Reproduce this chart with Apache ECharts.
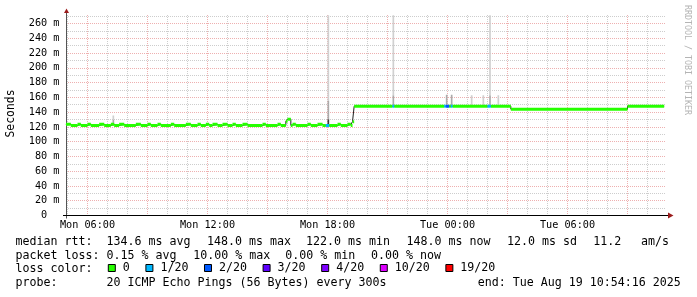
<!DOCTYPE html>
<html><head><meta charset="utf-8">
<script src="https://cdn.jsdelivr.net/npm/echarts@6/dist/echarts.min.js"></script>
<style>html,body{margin:0;padding:0;background:#fff}#c{width:697px;height:297px}</style>
</head><body><div id="c"></div>
<script>
// ---------------- data ----------------
const xRange = ['Mon 04:55:30', 'Tue 10:55:30'];
const xTickHours = [6, 12, 18, 24, 30];
const xTickLabels = ['Mon 06:00', 'Mon 12:00', 'Mon 18:00', 'Tue 00:00', 'Tue 06:00'];
const yTickValues = [0, 20, 40, 60, 80, 100, 120, 140, 160, 180, 200, 220, 240, 260];
const yTickLabels = ['0  ', '20 m', '40 m', '60 m', '80 m', '100 m', '120 m', '140 m', '160 m', '180 m', '200 m', '220 m', '240 m', '260 m'];
const yMax = 271.5;

const lossLabels = ['0', '1/20', '2/20', '3/20', '4/20', '10/20', '19/20'];
const lossColors = ['#26ff00', '#00b8ff', '#0059ff', '#5e00ff', '#7e00ff', '#dd00ff', '#ff0000'];

// median rtt (ms) per segment, starting at the given time; loss class index per segment
const medianStart = ['Mon 04:55','Mon 05:10','Mon 05:30','Mon 05:40','Mon 06:00','Mon 06:10','Mon 06:35','Mon 06:50','Mon 07:10','Mon 07:20',
  'Mon 07:35','Mon 07:50','Mon 08:25','Mon 08:40','Mon 09:00','Mon 09:10','Mon 09:30','Mon 09:40','Mon 10:10','Mon 10:20',
  'Mon 10:55','Mon 11:10','Mon 11:30','Mon 11:40','Mon 11:55','Mon 12:05','Mon 12:15','Mon 12:30','Mon 12:45','Mon 13:00',
  'Mon 13:15','Mon 13:25','Mon 13:45','Mon 14:00','Mon 14:45','Mon 14:55','Mon 15:30','Mon 15:40','Mon 15:55','Mon 16:00',
  'Mon 16:10','Mon 16:15','Mon 16:25','Mon 17:00','Mon 17:10','Mon 17:30','Mon 17:45','Mon 17:55','Mon 18:05','Mon 18:30',
  'Mon 18:40','Mon 19:00','Mon 19:10','Mon 19:15','Mon 19:20','Mon 21:15','Mon 21:20','Mon 23:50','Mon 23:55','Tue 00:05',
  'Tue 00:10','Tue 00:15','Tue 02:00','Tue 02:10','Tue 03:10','Tue 09:00'];
const medianEnd = 'Tue 10:50';
const medianValue = [123.4,122.0,123.4,122.0,123.4,122.0,123.4,122.0,123.4,122.0,
  123.4,122.0,123.4,122.0,123.4,122.0,123.4,122.0,123.4,122.0,
  123.4,122.0,123.4,122.0,123.4,122.0,123.4,122.0,123.4,122.0,
  123.4,122.0,123.4,122.0,123.4,122.0,123.4,122.0,127.5,130.5,
  122.0,123.4,122.0,123.4,122.0,123.4,122.0,122.0,122.0,123.4,
  122.0,123.4,122.0,127.0,148.0,148.0,148.0,148.0,148.0,148.0,
  148.0,148.0,148.0,148.0,144.0,148.0];
const medianLoss = [0,0,0,0,0,0,0,0,0,0, 0,0,0,0,0,0,0,0,0,0, 0,0,0,0,0,0,0,0,0,0,
  0,0,0,0,0,0,0,0,0,0, 0,0,0,0,0,0,0,1,0,0, 0,0,0,0,0,1,0,1,2,0,
  1,0,1,0,0,0];

// smoke (spread of the 20 pings) for single 5-minute samples
const smokeStart = ['Mon 07:15','Mon 07:15','Mon 18:00','Mon 18:00','Mon 18:00','Mon 21:15','Mon 21:15','Mon 23:55',
  'Tue 00:10','Tue 01:10','Tue 01:45','Tue 02:05','Tue 02:05','Tue 02:30'];
const smokeLow  = [122, 130, 122, 130.5, 155, 148, 163, 148, 148, 148, 148, 148, 163, 148];
const smokeHigh = [130, 135.5, 130.5, 155, 271, 163, 271, 163.5, 163.5, 163, 163, 163, 271, 163];
const smokeShade = [1, 0, 2, 1, 0, 1, 0, 1, 1, 0, 0, 1, 0, 0];
const smokeShades = ['#d0d0d0', '#ababab', '#3a3a3a'];
const stepMinutes = 5;

const statRows = [
  ['median rtt:', '134.6 ms avg', '148.0 ms max', '122.0 ms min', '148.0 ms now', '12.0 ms sd', '11.2', 'am/s'],
  ['packet loss:', '0.15 % avg', '10.00 % max', '0.00 % min', '0.00 % now'],
  ['loss color:'],
  ['probe:', '20 ICMP Echo Pings (56 Bytes) every 300s', 'end: Tue Aug 19 10:54:16 2025']
];

// ---------------- layout ----------------
const rowX = [
  [15.5, 106.5, 206.9, 305.9, 406.5, 506.9, 593.2, 641],
  [15.5, 106.5, 193.2, 285.2, 370.9],
  [15.5],
  [15.5, 106.5, 477.8]
];
const rowY = [242.2, 255.8, 269.4, 282.6];
const G = { left: 66, right: 31, top: 15, bottom: 81.5 };
const W = 697, H = 297;
const MONO = '"DejaVu Sans Mono", "Liberation Mono", monospace';

function hrs(s) {
  const parts = s.split(' ');
  const p = parts[1].split(':').map(Number);
  return (parts[0] === 'Tue' ? 24 : 0) + p[0] + p[1] / 60 + (p[2] || 0) / 3600;
}

const segs = medianStart.map((s, i) => [hrs(s), hrs(i + 1 < medianStart.length ? medianStart[i + 1] : medianEnd), medianValue[i], medianLoss[i]]);
const medianLine = [];
segs.forEach(g => { medianLine.push([g[0], g[2]]); medianLine.push([g[1], g[2]]); });
const smokeData = smokeStart.map((s, i) => [hrs(s), hrs(s) + stepMinutes / 60, smokeLow[i], smokeHigh[i], smokeShade[i]]);

const minorHours = [], majorHours = [];
for (let h = 5; h <= 34; h++) { if (h % 3) minorHours.push(h); else majorHours.push(h); }
const yMinor = [], yMajor = yTickValues.slice();
for (let v = 10; v < yMax; v += 20) yMinor.push(v);

const gridGrey = '#cdcdcd', gridRed = '#eeb0b0';

const chart = echarts.init(document.getElementById('c'), null, { renderer: 'canvas' });

function bandItem(params, api) {
  const s = api.coord([api.value(0), api.value(2)]);
  const e = api.coord([api.value(1), api.value(2)]);
  return { type: 'rect', shape: { x: s[0], y: s[1] - 1.5, width: e[0] - s[0], height: 3 }, style: { fill: api.visual('color') } };
}
function smokeItem(params, api) {
  const a = api.coord([api.value(0), api.value(3)]);
  const b = api.coord([api.value(1), api.value(2)]);
  return { type: 'rect', shape: { x: a[0], y: a[1], width: b[0] - a[0], height: b[1] - a[1] }, style: { fill: smokeShades[api.value(4)] } };
}

const series = [
  { type: 'custom', name: 'smoke', renderItem: smokeItem, data: smokeData, clip: true, silent: true, z: 1,
    encode: { x: [0, 1], y: [2, 3] } },
  { type: 'line', name: 'median', data: medianLine, showSymbol: false, silent: true, z: 2,
    lineStyle: { color: '#202020', width: 1 } }
];
lossLabels.forEach((name, k) => {
  series.push({ type: 'custom', name, renderItem: bandItem, clip: true, silent: true, z: 3,
    itemStyle: { color: lossColors[k] },
    encode: { x: [0, 1], y: 2 },
    data: segs.filter(g => g[3] === k) });
});

const texts = [];
statRows.forEach((row, r) => row.forEach((t, c) => {
  texts.push({ type: 'text', silent: true, x: rowX[r][c], y: rowY[r],
    style: { text: t, font: '11.63px ' + MONO, fill: '#000', textAlign: 'left', textVerticalAlign: 'middle', align: 'left', verticalAlign: 'middle' } });
}));

const gx0 = G.left, gx1 = W - G.right, gy0 = G.top, gy1 = H - G.bottom;
const arrowRed = '#9b1c1c';
const dotted = { width: 1, type: [1, 1], dashOffset: 0 };

chart.setOption({
  animation: false,
  backgroundColor: '#ffffff',
  grid: { left: G.left, right: G.right, top: G.top, bottom: G.bottom, containLabel: false },
  xAxis: [
    { type: 'value', position: 'bottom', min: hrs(xRange[0]), max: hrs(xRange[1]),
      axisLine: { show: true, onZero: false, lineStyle: { color: '#000', width: 1 } },
      axisTick: { show: false, customValues: minorHours },
      axisLabel: { show: false },
      splitLine: { show: true, lineStyle: Object.assign({ color: gridGrey }, dotted) } },
    { type: 'value', position: 'bottom', min: hrs(xRange[0]), max: hrs(xRange[1]),
      axisLine: { show: false, onZero: false },
      axisTick: { show: false, customValues: majorHours },
      axisLabel: { show: true, customValues: xTickHours, margin: 4.5, color: '#000',
        fontFamily: MONO, fontSize: 10.2,
        formatter: v => xTickLabels[xTickHours.indexOf(Math.round(v))] },
      splitLine: { show: true, lineStyle: Object.assign({ color: gridRed }, dotted) } }
  ],
  yAxis: [
    { type: 'value', position: 'left', min: 0, max: yMax,
      axisLine: { show: true, onZero: false, lineStyle: { color: '#555', width: 1 } },
      axisTick: { show: false, customValues: yMinor },
      axisLabel: { show: false },
      splitLine: { show: true, lineStyle: Object.assign({ color: gridGrey }, dotted) } },
    { type: 'value', position: 'left', min: 0, max: yMax,
      axisLine: { show: false, onZero: false },
      axisTick: { show: false, customValues: yMajor },
      axisLabel: { show: true, customValues: yTickValues, margin: 6.5, color: '#000',
        fontFamily: MONO, fontSize: 10.2,
        formatter: v => yTickLabels[yTickValues.indexOf(Math.round(v))] },
      splitLine: { show: true, lineStyle: Object.assign({ color: gridRed }, dotted) } }
  ],
  legend: {
    left: 107.8, top: 262, padding: 0, orient: 'horizontal', icon: 'rect',
    itemWidth: 7, itemHeight: 7, itemGap: 15.6, selectedMode: false,
    textStyle: { fontFamily: MONO, fontSize: 11.63, color: '#000', padding: [0, 0, 0, 2.5] },
    data: lossLabels.map((n, k) => ({ name: n, icon: 'rect', itemStyle: { color: lossColors[k], borderColor: '#000', borderWidth: 1 } }))
  },
  series,
  graphic: [
    ...texts,
    { type: 'text', silent: true, x: 11, y: 113.5, rotation: Math.PI / 2,
      style: { text: 'Seconds', font: '11.4px ' + MONO, fill: '#000', textAlign: 'center', textVerticalAlign: 'middle', align: 'center', verticalAlign: 'middle' } },
    { type: 'text', silent: true, x: 687.5, y: 60, rotation: -Math.PI / 2,
      style: { text: 'RRDTOOL / TOBI OETIKER', font: '8.3px ' + MONO, fill: '#b4b4b4', textAlign: 'center', textVerticalAlign: 'middle', align: 'center', verticalAlign: 'middle' } },
    { type: 'line', silent: true, shape: { x1: gx0 - 3, y1: gy1, x2: gx1 + 2, y2: gy1 }, style: { stroke: '#000', lineWidth: 1 } },
    { type: 'line', silent: true, shape: { x1: gx0 + 0.5, y1: gy1 + 3, x2: gx0 + 0.5, y2: gy0 - 2 }, style: { stroke: '#555', lineWidth: 1 } },
    { type: 'polygon', silent: true, shape: { points: [[gx1 + 2, gy1 - 3], [gx1 + 7.5, gy1], [gx1 + 2, gy1 + 3]] }, style: { fill: arrowRed } },
    { type: 'polygon', silent: true, shape: { points: [[gx0 - 2, gy0 - 2], [gx0 + 0.5, gy0 - 6.5], [gx0 + 3, gy0 - 2]] }, style: { fill: arrowRed } }
  ]
});
</script></body></html>
